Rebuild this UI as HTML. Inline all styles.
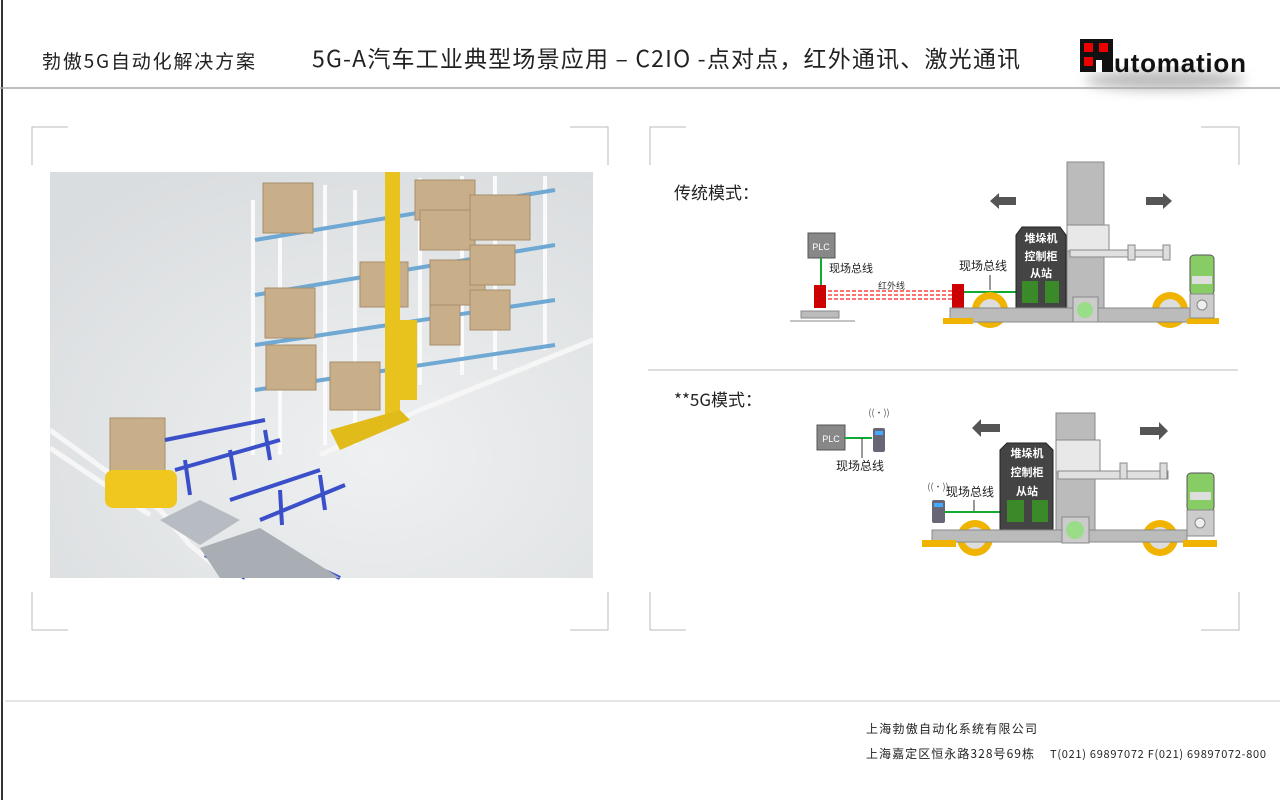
<!DOCTYPE html>
<html><head><meta charset="utf-8"><style>
html,body{margin:0;padding:0;width:1280px;height:800px;overflow:hidden;background:#fff;font-family:"Noto Sans CJK SC",sans-serif;}
svg{position:absolute;left:0;top:0}
</style></head><body>
<svg width="1280" height="800" viewBox="0 0 1280 800" xmlns="http://www.w3.org/2000/svg" font-family="Noto Sans CJK SC, sans-serif">
<defs>
<radialGradient id="fl" cx="0.6" cy="0.7" r="0.8"><stop offset="0" stop-color="#eef0f1"/><stop offset="1" stop-color="#dadddf"/></radialGradient>
<filter id="sh" x="-20%" y="-20%" width="140%" height="180%"><feGaussianBlur stdDeviation="6"/></filter>
</defs>
<line x1="2" y1="0" x2="2" y2="800" stroke="#333" stroke-width="2"/>
<text x="42" y="68" font-size="19" fill="#222" textLength="213">勃傲5G自动化解决方案</text>
<text x="312" y="67" font-size="23" fill="#222" textLength="708">5G-A汽车工业典型场景应用 – C2IO -点对点，红外通讯、激光通讯</text>
<ellipse cx="1165" cy="80" rx="80" ry="10" fill="#bbb" filter="url(#sh)"/>
<rect x="1080" y="39" width="33" height="33" fill="#111"/>
<rect x="1084" y="43" width="9" height="9" fill="#e00"/><rect x="1099" y="43" width="9" height="9" fill="#e00"/><rect x="1084" y="57" width="9" height="9" fill="#e00"/>
<rect x="1096" y="60" width="6" height="12" fill="#fff"/>
<text x="1114" y="72" font-size="26" font-weight="bold" fill="#111" font-family="Liberation Sans, sans-serif" textLength="132">utomation</text>
<line x1="0" y1="88" x2="1280" y2="88" stroke="#aaa" stroke-width="1.5"/>
<g stroke="#bbb" stroke-width="1" fill="none">
<path d="M32 165V127H68M570 127H608V165M32 592V630H68M570 630H608V592"/>
<path d="M650 165V127H686M1201 127H1239V165M650 592V630H686M1201 630H1239V592"/>
</g>
<rect x="50" y="172" width="543" height="406" fill="url(#fl)"/>
<g stroke="#f6f6f6" stroke-width="5" fill="none">
<path d="M50 430 L160 510 L190 545 L220 570"/><path d="M50 448 L150 515"/>
<path d="M320 455 L420 410 L593 340"/>
</g>
<g stroke="#fafafa" stroke-width="4">
<line x1="253" y1="200" x2="253" y2="455"/><line x1="280" y1="190" x2="280" y2="455"/><line x1="325" y1="185" x2="325" y2="445"/><line x1="355" y1="190" x2="355" y2="445"/>
<line x1="420" y1="178" x2="420" y2="385"/><line x1="462" y1="176" x2="462" y2="375"/><line x1="495" y1="176" x2="495" y2="370"/><line x1="545" y1="176" x2="545" y2="350"/>
</g>
<g stroke="#6fa9d3" stroke-width="4">
<line x1="255" y1="240" x2="555" y2="190"/><line x1="255" y1="295" x2="555" y2="245"/><line x1="255" y1="345" x2="555" y2="300"/><line x1="255" y1="390" x2="555" y2="345"/>
</g>
<g fill="#c9ae8a" stroke="#a88d6a">
<rect x="263" y="183" width="50" height="50"/><rect x="265" y="288" width="50" height="50"/><rect x="266" y="345" width="50" height="45"/>
<rect x="360" y="262" width="48" height="45"/><rect x="415" y="180" width="60" height="40"/><rect x="420" y="210" width="55" height="40"/>
<rect x="470" y="195" width="60" height="45"/><rect x="430" y="260" width="55" height="45"/><rect x="470" y="245" width="45" height="40"/>
<rect x="430" y="305" width="30" height="40"/><rect x="470" y="290" width="40" height="40"/>
<rect x="330" y="362" width="50" height="48"/><rect x="110" y="418" width="55" height="65"/>
</g>
<rect x="385" y="172" width="15" height="245" fill="#e8c31e"/><rect x="397" y="320" width="20" height="80" fill="#e8c31e"/>
<path d="M330 430 L400 410 L410 420 L340 450 Z" fill="#e1bb1a"/>
<rect x="105" y="470" width="72" height="38" rx="8" fill="#efc71f"/>
<g stroke="#3a4fc8" stroke-width="4" fill="none">
<path d="M165 440 L265 420 M175 470 L280 440 M185 460 L190 495 M230 450 L235 480 M265 430 L270 460"/>
<path d="M230 500 L320 470 M260 520 L345 485 M280 490 L282 525 M320 475 L325 510"/>
<path d="M205 555 L245 578 M290 555 L340 578"/>
</g>
<path d="M160 520 L200 500 L240 520 L200 545 Z" fill="#b7bcc2"/>
<path d="M200 548 L260 528 L340 578 L220 578 Z" fill="#a9aeb4"/>
<text x="674" y="199" font-size="17" fill="#222">传统模式：</text>
<line x1="648" y1="370" x2="1238" y2="370" stroke="#bbb"/>
<text x="674" y="406" font-size="17" fill="#222">**5G模式：</text>
<g>
<rect x="808" y="233" width="27" height="25" fill="#888" stroke="#555"/><text x="821" y="250" font-size="9" fill="#fff" text-anchor="middle" font-family="Liberation Sans, sans-serif">PLC</text>
<line x1="821" y1="258" x2="821" y2="285" stroke="#1a3" stroke-width="2"/>
<text x="829" y="272" font-size="11" fill="#222">现场总线</text>
<rect x="814" y="285" width="12" height="23" fill="#c00"/>
<rect x="801" y="311" width="38" height="7" fill="#bbb" stroke="#888"/>
<line x1="790" y1="321" x2="855" y2="321" stroke="#888"/>
<g stroke="#f44" stroke-width="1.5" stroke-dasharray="4 2"><line x1="828" y1="291" x2="952" y2="291"/><line x1="828" y1="295" x2="952" y2="295"/><line x1="828" y1="299" x2="952" y2="299"/></g>
<text x="878" y="289" font-size="9" fill="#333">红外线</text>
<rect x="952" y="284" width="12" height="24" fill="#c00"/>
<text x="959" y="270" font-size="12" fill="#222">现场总线</text>
<line x1="990" y1="275" x2="990" y2="290" stroke="#333"/>
<line x1="964" y1="292" x2="1025" y2="292" stroke="#1a3" stroke-width="2"/>
<rect x="1067" y="162" width="37" height="150" fill="#bbb" stroke="#888"/>
<rect x="1067" y="225" width="42" height="26" fill="#e8e8e8" stroke="#888"/>
<rect x="1070" y="250" width="100" height="7" fill="#e0e0e0" stroke="#888"/><rect x="1128" y="245" width="7" height="15" fill="#ddd" stroke="#888"/><rect x="1163" y="245" width="7" height="15" fill="#ddd" stroke="#888"/>
<path d="M1016 235 L1022 227 H1060 L1066 235 V308 H1016 Z" fill="#444" stroke="#222"/>
<text x="1041" y="242" font-size="11" font-weight="bold" fill="#fff" text-anchor="middle">堆垛机</text>
<text x="1041" y="260" font-size="11" font-weight="bold" fill="#fff" text-anchor="middle">控制柜</text>
<text x="1041" y="277" font-size="11" font-weight="bold" fill="#fff" text-anchor="middle">从站</text>
<rect x="1022" y="281" width="16" height="22" fill="#3a8a2a"/><rect x="1045" y="281" width="14" height="22" fill="#3a8a2a"/>
<circle cx="990" cy="310" r="18" fill="#f0b400"/><circle cx="990" cy="310" r="11" fill="#ddd"/>
<circle cx="1170" cy="310" r="18" fill="#f0b400"/><circle cx="1170" cy="310" r="11" fill="#ddd"/>
<rect x="950" y="308" width="240" height="14" fill="#bbb" stroke="#888"/>
<rect x="943" y="318" width="30" height="6" fill="#f0b400"/><rect x="1187" y="318" width="32" height="6" fill="#f0b400"/>
<rect x="1073" y="297" width="25" height="25" fill="#ccc" stroke="#888"/><circle cx="1085" cy="310" r="8" fill="#9d8"/>
<rect x="1190" y="255" width="24" height="40" rx="4" fill="#8c6" stroke="#555"/><rect x="1192" y="276" width="20" height="8" fill="#ddd"/>
<rect x="1190" y="294" width="24" height="24" fill="#ccc" stroke="#888"/><circle cx="1202" cy="305" r="5" fill="#eee" stroke="#888"/>
<path d="M990 201 L999 193 V197 H1016 V205 H999 V209 Z" fill="#555"/>
<path d="M1172 201 L1163 193 V197 H1146 V205 H1163 V209 Z" fill="#555"/>
</g>
<g>
<rect x="817" y="425" width="28" height="25" fill="#888" stroke="#555"/><text x="831" y="442" font-size="9" fill="#fff" text-anchor="middle" font-family="Liberation Sans, sans-serif">PLC</text>
<line x1="845" y1="438" x2="872" y2="438" stroke="#1a3" stroke-width="2"/>
<line x1="862" y1="438" x2="862" y2="458" stroke="#333"/>
<text x="836" y="470" font-size="12" fill="#222">现场总线</text>
<rect x="873" y="428" width="12" height="24" rx="2" fill="#667"/><rect x="875" y="431" width="8" height="4" fill="#4af"/>
<text x="879" y="416" font-size="9" fill="#555" text-anchor="middle">((•))</text>
<rect x="932" y="500" width="13" height="23" rx="2" fill="#667"/><rect x="934" y="503" width="9" height="4" fill="#4af"/>
<text x="938" y="490" font-size="9" fill="#555" text-anchor="middle">((•))</text>
<text x="946" y="496" font-size="12" fill="#222">现场总线</text>
<line x1="974" y1="500" x2="974" y2="512" stroke="#333"/>
<line x1="945" y1="512" x2="1008" y2="512" stroke="#1a3" stroke-width="2"/>
<rect x="1056" y="413" width="39" height="123" fill="#bbb" stroke="#888"/>
<rect x="1056" y="440" width="44" height="32" fill="#e8e8e8" stroke="#888"/>
<rect x="1058" y="471" width="110" height="8" fill="#e0e0e0" stroke="#888"/><rect x="1120" y="463" width="7" height="16" fill="#ddd" stroke="#888"/><rect x="1160" y="463" width="7" height="16" fill="#ddd" stroke="#888"/>
<path d="M1000 450 L1007 443 H1046 L1053 450 V530 H1000 Z" fill="#444" stroke="#222"/>
<text x="1027" y="457" font-size="11" font-weight="bold" fill="#fff" text-anchor="middle">堆垛机</text>
<text x="1027" y="476" font-size="11" font-weight="bold" fill="#fff" text-anchor="middle">控制柜</text>
<text x="1027" y="495" font-size="11" font-weight="bold" fill="#fff" text-anchor="middle">从站</text>
<rect x="1007" y="500" width="17" height="22" fill="#3a8a2a"/><rect x="1032" y="500" width="16" height="22" fill="#3a8a2a"/>
<circle cx="975" cy="538" r="18" fill="#f0b400"/><circle cx="975" cy="538" r="11" fill="#ddd"/>
<circle cx="1160" cy="538" r="18" fill="#f0b400"/><circle cx="1160" cy="538" r="11" fill="#ddd"/>
<rect x="932" y="530" width="255" height="12" fill="#bbb" stroke="#888"/>
<rect x="922" y="540" width="34" height="7" fill="#f0b400"/><rect x="1183" y="540" width="34" height="7" fill="#f0b400"/>
<rect x="1062" y="517" width="27" height="26" fill="#ccc" stroke="#888"/><circle cx="1075" cy="530" r="9" fill="#9d8"/>
<rect x="1187" y="473" width="27" height="38" rx="4" fill="#8c6" stroke="#555"/><rect x="1190" y="492" width="21" height="8" fill="#ddd"/>
<rect x="1187" y="510" width="27" height="26" fill="#ccc" stroke="#888"/><circle cx="1200" cy="523" r="5" fill="#eee" stroke="#888"/>
<path d="M972 428 L981 419 V424 H1000 V432 H981 V437 Z" fill="#555"/>
<path d="M1168 431 L1159 422 V427 H1140 V435 H1159 V440 Z" fill="#555"/>
</g>
<line x1="5" y1="701" x2="1280" y2="701" stroke="#ccc"/>
<text x="866" y="733" font-size="12" fill="#222" textLength="171">上海勃傲自动化系统有限公司</text>
<text x="866" y="758" font-size="12" fill="#222" textLength="168">上海嘉定区恒永路328号69栋</text>
<text x="1050" y="758" font-size="11" fill="#222" textLength="216">T(021) 69897072  F(021) 69897072-800</text>
</svg>
</body></html>
